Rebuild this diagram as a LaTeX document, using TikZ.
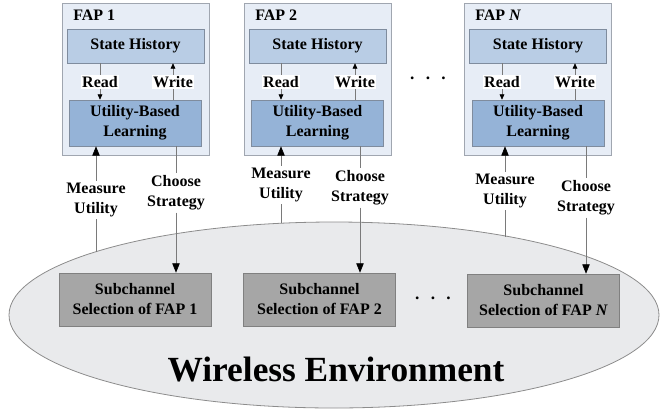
\documentclass[tikz,border=0pt]{standalone}
\usepackage{fontspec}
\setmainfont{Liberation Serif}[BoldFont={Liberation Serif Bold}, ItalicFont={Liberation Serif Italic}, BoldItalicFont={Liberation Serif Bold Italic}]
\newfontfamily\timesbf{Liberation Serif Bold}[ItalicFont={Liberation Serif Bold Italic}]
\usetikzlibrary{arrows.meta,shapes.geometric}

\definecolor{fapfill}{HTML}{E7EDF6}
\definecolor{fapline}{HTML}{A0A6B0}
\definecolor{histfill}{HTML}{B9CDE5}
\definecolor{learnfill}{HTML}{95B3D7}
\definecolor{boxline}{HTML}{7F8C9E}
\definecolor{subfill}{HTML}{A6A6A6}
\definecolor{subline}{HTML}{808080}
\definecolor{envfill}{HTML}{E9EAEC}
\definecolor{envline}{HTML}{8C8C8C}
\definecolor{conline}{HTML}{7A7A7A}

\tikzset{
  txt/.style={font=\fontsize{12}{15}\timesbf\selectfont, align=center},
  fapbox/.style={draw=fapline, fill=fapfill, minimum width=110.25pt, minimum height=114pt, inner sep=0pt},
  histbox/.style={txt, draw=boxline, fill=histfill, minimum width=102.75pt, minimum height=25.5pt, inner sep=0pt},
  learnbox/.style={txt, draw=boxline, fill=learnfill, minimum width=99pt, minimum height=34.5pt, inner sep=0pt},
  subbox/.style={txt, draw=subline, fill=subfill, minimum width=114pt, minimum height=39.75pt, inner sep=0pt},
  rwlbl/.style={txt, fill=white, inner sep=1pt},
  iolbl/.style={txt, inner sep=1.5pt},
  rwline/.style={draw=conline, line width=0.5pt, -{Triangle[length=4pt,width=3.5pt,color=black]}},
  ioline/.style={draw=conline, line width=0.5pt, -{Triangle[length=7pt,width=5.5pt,color=black]}},
  plain/.style={draw=conline, line width=0.5pt},
  dots/.style={font=\fontsize{13}{15}\timesbf\selectfont}
}

\begin{document}
\begin{tikzpicture}[x=0.75pt, y=-0.75pt]
  \useasboundingbox (0,0) rectangle (660,411);

  % environment
  \node[ellipse, draw=envline, fill=envfill, line width=0.6pt,
        minimum width=487.5pt, minimum height=139.5pt, inner sep=0pt] (env) at (334,315) {};
  \node[font=\fontsize{26.5}{30}\timesbf\selectfont] (wenv) at (336,370) {Wireless Environment};

  % FAP boxes
  \node[fapbox] (fap1) at (135.5,79) {};
  \node[fapbox] (fap2) at (317.5,79) {};
  \node[fapbox] (fapN) at (538,79) {};
  \node[txt, anchor=west, inner sep=0pt] (t1) at (73,15) {FAP 1};
  \node[txt, anchor=west, inner sep=0pt] (t2) at (255,15) {FAP 2};
  \node[txt, anchor=west, inner sep=0pt] (tN) at (475,15) {FAP \textit{N}};

  \node[histbox] (sh1) at (135.5,46) {State History};
  \node[histbox] (sh2) at (317.5,46) {State History};
  \node[histbox] (shN) at (538,46) {State History};

  \node[learnbox] (ubl1) at (135,123) {Utility-Based\\Learning};
  \node[learnbox] (ubl2) at (317.5,123) {Utility-Based\\Learning};
  \node[learnbox] (ublN) at (538,123) {Utility-Based\\Learning};

  % read / write
  \node[rwlbl] (rd1) at (100,82) {Read};
  \node[rwlbl] (wr1) at (173,82) {Write};
  \node[rwlbl] (rd2) at (281,82) {Read};
  \node[rwlbl] (wr2) at (355,82) {Write};
  \node[rwlbl] (rdN) at (502,82) {Read};
  \node[rwlbl] (wrN) at (575,82) {Write};

  \draw[plain] (sh1.south -| rd1) -- (rd1.north);
  \draw[rwline] (rd1.south) -- (ubl1.north -| rd1);
  \draw[plain] (ubl1.north -| wr1) -- (wr1.south);
  \draw[rwline] (wr1.north) -- (sh1.south -| wr1);
  \draw[plain] (sh2.south -| rd2) -- (rd2.north);
  \draw[rwline] (rd2.south) -- (ubl2.north -| rd2);
  \draw[plain] (ubl2.north -| wr2) -- (wr2.south);
  \draw[rwline] (wr2.north) -- (sh2.south -| wr2);
  \draw[plain] (shN.south -| rdN) -- (rdN.north);
  \draw[rwline] (rdN.south) -- (ublN.north -| rdN);
  \draw[plain] (ublN.north -| wrN) -- (wrN.south);
  \draw[rwline] (wrN.north) -- (shN.south -| wrN);

  % subchannel selection
  \node[subbox] (sc1) at (135,299.5) {Subchannel\\Selection of FAP 1};
  \node[subbox] (sc2) at (319.5,299.5) {Subchannel\\Selection of FAP 2};
  \node[subbox] (scN) at (543.5,300.5) {Subchannel\\Selection of FAP \textit{N}};

  % measure / choose
  \node[iolbl] (ms1) at (96,200) {Measure\\Utility};
  \node[iolbl] (ch1) at (176,193) {Choose\\Strategy};
  \node[iolbl] (ms2) at (281,185) {Measure\\Utility};
  \node[iolbl] (ch2) at (360,188) {Choose\\Strategy};
  \node[iolbl] (msN) at (505,191) {Measure\\Utility};
  \node[iolbl] (chN) at (586,198) {Choose\\Strategy};

  \coordinate (m1) at (96,251.5);
  \coordinate (m2) at (281,223);
  \coordinate (mN) at (505,236.5);

  \draw[plain] (m1) -- (ms1.south);
  \draw[ioline] (ms1.north) -- (ubl1.south -| ms1);
  \draw[plain] (ubl1.south -| ch1) -- (ch1.north);
  \draw[ioline] (ch1.south) -- (sc1.north -| ch1);
  \draw[plain] (m2) -- (ms2.south);
  \draw[ioline] (ms2.north) -- (ubl2.south -| ms2);
  \draw[plain] (ubl2.south -| ch2) -- (ch2.north);
  \draw[ioline] (ch2.south) -- (sc2.north -| ch2);
  \draw[plain] (mN) -- (msN.south);
  \draw[ioline] (msN.north) -- (ublN.south -| msN);
  \draw[plain] (ublN.south -| chN) -- (chN.north);
  \draw[ioline] (chN.south) -- (scN.north -| chN);

  % dots
  \node[dots] (d1) at (428,78) {.\hspace{8.5pt}.\hspace{8.5pt}.};
  \node[dots] (d2) at (433,298) {.\hspace{8.5pt}.\hspace{8.5pt}.};
\end{tikzpicture}
\end{document}
